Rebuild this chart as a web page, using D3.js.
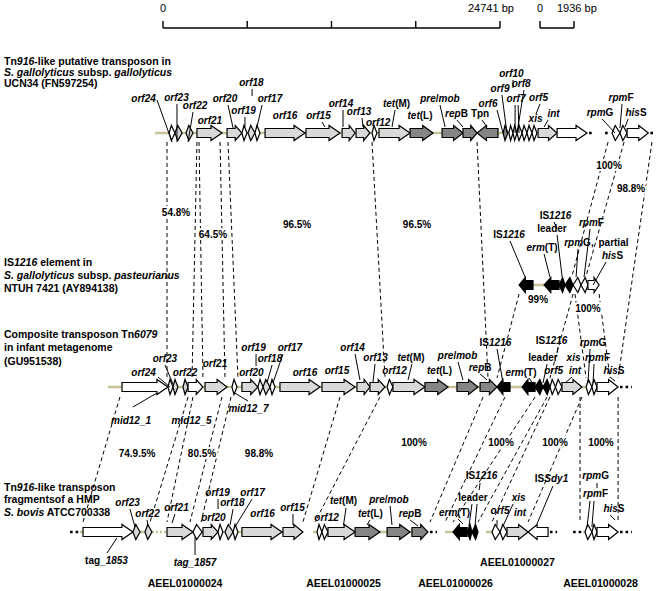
<!DOCTYPE html>
<html><head><meta charset="utf-8">
<script src="https://cdn.jsdelivr.net/npm/d3@7/dist/d3.min.js"></script>
<style>
body{margin:0;background:#fff;}
svg{display:block;font-family:"Liberation Sans",Arial,sans-serif;}
</style></head><body>
<svg id="c" width="661" height="591"></svg>
<script>
// ---------------- DATA (map coordinates in kb) ----------------
const scaleMainBp = [0, 6185, 12370, 18556, 24741];
const scaleSmallBp = [0, 1936];

// [name, startKb, endKb, strand, class]
const genesT1 = [
 ["orf24",0.13,0.50,1,"other"],["orf23",0.50,0.95,1,"core"],["orf22",1.20,1.64,1,"core"],
 ["orf21",1.89,3.47,1,"core"],["orf20",3.79,4.73,1,"core"],["orf19",4.73,5.05,1,"other"],
 ["orf18",5.11,5.55,1,"core"],["orf17",5.55,5.87,1,"other"],["orf16",6.19,8.71,1,"core"],
 ["orf15",8.77,10.92,1,"core"],["orf14",11.05,11.87,1,"core"],["orf13",11.93,12.81,1,"core"],
 ["orf12",12.94,13.25,1,"other"],["tet(M)",13.38,15.34,1,"core"],["tet(L)",15.34,16.79,1,"mobile"],
 ["pre/mob",17.36,18.68,1,"mobile"],["repB",18.68,19.57,1,"mobile"],["Tpn",19.57,20.89,-1,"mobile"],
 ["orf6",21.21,21.52,1,"mobile"],["orf9",21.58,21.84,1,"other"],["orf10",21.84,22.09,1,"other"],
 ["orf7",22.09,22.41,1,"other"],["orf8",22.41,22.72,1,"other"],["orf5",22.72,23.04,1,"other"],
 ["xis",23.04,23.35,1,"other"],["int",23.42,24.62,1,"core"],["unnamed",24.62,26.51,1,"other"],
 ["rpmG",28.09,28.59,1,"other"],["rpmF",28.59,29.04,1,"other"],["hisS",29.04,30.38,1,"other"]
];
const genesT2 = [
 ["IS1216",22.22,23.10,-1,"erm"],["erm(T)",23.80,24.74,-1,"erm"],["leader",24.74,25.12,-1,"erm"],
 ["IS1216",25.12,25.63,-1,"erm"],["rpmG",25.63,26.13,-1,"other"],["rpmF",26.13,26.57,-1,"other"],
 ["hisS",26.57,27.27,1,"other"]
];
const genesT3 = [
 ["mid12_1",-2.84,0.06,1,"other"],["orf24",0.06,0.38,1,"other"],["orf23",0.38,0.69,1,"core"],
 ["orf22",1.01,1.33,1,"core"],["mid12_5",1.33,2.27,1,"other"],["orf21",2.40,3.79,1,"core"],
 ["mid12_7",4.10,4.42,1,"other"],["orf20",4.73,5.74,1,"core"],["orf19",5.74,6.06,1,"other"],
 ["orf18",6.06,6.50,1,"core"],["orf17",6.50,6.82,1,"other"],["orf16",7.13,9.66,1,"core"],
 ["orf15",9.78,11.87,1,"core"],["orf14",11.99,12.81,1,"core"],["orf13",12.81,13.76,1,"core"],
 ["orf12",13.89,14.26,1,"other"],["tet(M)",14.26,16.28,1,"core"],["tet(L)",16.28,17.74,1,"mobile"],
 ["pre/mob",18.30,19.63,1,"mobile"],["repB",19.76,20.83,1,"mobile"],["IS1216",20.83,21.65,-1,"erm"],
 ["erm(T)",22.41,23.23,-1,"erm"],["leader",23.23,23.73,-1,"erm"],["IS1216",23.73,24.17,-1,"erm"],
 ["orf5",24.17,24.52,1,"other"],["xis",24.52,24.93,1,"other"],["int",24.93,26.19,1,"core"],
 ["rpmG",26.45,26.82,1,"other"],["rpmF",26.82,27.14,1,"other"],["hisS",27.14,28.47,1,"other"]
];
const genesT4 = [
 ["tag_1853",-5.30,-2.15,1,"other"],["orf23",-2.15,-1.70,1,"core"],["orf22",-1.39,-0.95,1,"core"],
 ["orf21",0,1.64,1,"core"],["tag_1857",1.64,2.21,1,"other"],["orf20",2.27,3.22,1,"core"],
 ["orf19",3.22,3.53,1,"other"],["orf18",3.66,4.17,1,"core"],["orf17",4.17,4.48,1,"other"],
 ["orf16",4.73,7.26,1,"core"],["orf15",7.32,8.58,1,"core"],
 ["orf13",9.47,9.78,1,"other"],["orf12",9.78,10.16,1,"other"],["tet(M)",10.16,11.87,1,"core"],
 ["tet(L)",11.87,13.44,1,"mobile"],["pre/mob",13.89,15.34,1,"mobile"],["repB",15.46,16.47,1,"mobile"],
 ["erm(T)",18.05,18.94,-1,"erm"],["leader",18.94,19.25,-1,"erm"],["IS1216",19.25,19.63,-1,"erm"],
 ["orf5",20.51,21.02,1,"other"],["xis",21.02,21.46,1,"other"],["int",21.46,22.79,1,"core"],
 ["ISSdy1",22.79,24.05,-1,"other"],
 ["rpmG",26.38,26.82,1,"other"],["rpmF",26.82,27.14,1,"other"],["hisS",27.14,28.47,1,"other"]
];

// backbone segments [startKb, endKb, kind]
const backT1 = [[-0.76,24.62,"solid"],[26.64,26.96,"gap"],[27.65,27.96,"gap"],[30.51,30.80,"gap"]];
const backT2 = [[23.10,23.92,"solid"]];
const backT3 = [[-3.72,28.47,"solid"],[28.59,29.35,"gap"]];
const backT4 = [[-6.12,-5.55,"gap"],[-5.49,-0.95,"solid"],[-0.95,0,"dotted"],[0,8.58,"solid"],
 [9.22,16.47,"solid"],[16.60,17.04,"gap"],[17.55,19.63,"solid"],[20.13,24.05,"solid"],
 [24.17,24.62,"gap"],[25.63,26.26,"gap"],[26.26,28.47,"solid"],[28.59,29.35,"gap"]];

// gene labels [markup, centerKb, dy, leaders [kb1,dy1,kb2,dy2]]
const labelsT1 = [
 ["<i>orf24</i>",-1.48,-31,[[-0.63,-33,0.32,9]]],["<i>orf23</i>",0.60,-32,[[0.63,-29,0.63,9]]],
 ["<i>orf22</i>",1.77,-24,[[1.64,-21,1.33,9]]],["<i>orf21</i>",2.71,-9,[]],
 ["<i>orf20</i>",3.66,-31,[[3.85,-28,4.17,-5]]],["<i>orf18</i>",5.33,-47,[[5.37,-44,5.37,-37]]],
 ["<i>orf19</i>",4.83,-19,[[4.92,-16,4.92,-6]]],["<i>orf17</i>",6.50,-31,[[6.0,-28,5.68,-6]]],
 ["<i>orf16</i>",7.45,-14,[]],["<i>orf15</i>",9.56,-14,[[9.78,-11,9.97,-6]]],
 ["<i>orf14</i>",10.98,-26,[[11.11,-23,11.11,-6]]],["<i>orf13</i>",12.12,-18,[[12.31,-15,12.37,-6]]],
 ["<i>orf12</i>",13.33,-7,[]],["<i>tet</i>(M)",14.49,-26,[[14.39,-23,14.20,-6]]],
 ["<i>tet</i>(L)",15.97,-14,[]],["<i>pre</i>/<i>mob</i>",17.23,-31,[[17.23,-28,17.55,-6]]],
 ["<i>rep</i>B",18.27,-16,[[18.30,-13,18.68,-6]]],["Tpn",19.76,-16,[[19.88,-13,20.20,-6]]],
 ["<i>orf6</i>",20.26,-26,[[20.83,-23,21.21,0]]],["<i>orf9</i>",21.02,-41,[[21.14,-38,21.46,0]]],
 ["<i>orf10</i>",21.74,-56,[[21.84,-53,21.84,-45]]],["<i>orf8</i>",22.35,-46,[[22.53,-43,22.09,0]]],
 ["<i>orf7</i>",22.03,-31,[[21.97,-28,21.97,0],[22.16,-28,22.22,0]]],
 ["<i>orf5</i>",23.45,-32,[[23.54,-29,23.29,-19]]],["<i>xis</i>",23.26,-11,[]],
 ["<i>int</i>",24.40,-16,[[24.05,-13,23.80,-6]]],["<i>rpm</i>F",28.66,-32,[[28.72,-29,28.59,-5]]],
 ["<i>rpm</i>G",27.33,-17,[[27.46,-14,28.28,0]]],["<i>his</i>S",29.60,-17,[[29.10,-14,28.91,-6]]]
];
const labelsT2 = [
 ["IS<i>1216</i>",24.52,-66,[[24.43,-63,24.62,-56]]],["leader",24.30,-53,[[24.62,-50,24.94,-8]]],
 ["IS<i>1216</i>",21.59,-47,[[21.65,-44,22.60,-8]]],["<i>erm</i>(T)",23.67,-34,[[23.80,-31,24.17,-8]]],
 ["<i>rpm</i>F",26.79,-59,[[26.70,-56,26.32,-8]]],["<i>rpm</i>G,",26.00,-39,[[25.94,-36,25.82,-8]]],
 ["partial",28.18,-39,[]],["<i>his</i>S",28.12,-26,[[27.71,-23,26.89,0]]]
];
const labelsT3 = [
 ["<i>orf23</i>",-0.13,-25,[[-0.13,-22,0.38,-3]]],["<i>orf24</i>",-1.48,-11,[[-0.57,-10,0.19,0]]],
 ["<i>orf22</i>",1.14,-11,[]],["<i>orf21</i>",3.03,-20,[]],
 ["<i>orf19</i>",5.46,-36,[[5.62,-33,5.62,-21]]],["<i>orf18</i>",6.50,-25,[[6.63,-22,6.31,-4]]],
 ["<i>orf17</i>",7.76,-36,[[7.32,-33,6.69,-4]]],["<i>orf20</i>",5.33,-11,[]],
 ["<i>orf16</i>",8.71,-11,[]],["<i>orf15</i>",10.73,-13,[]],
 ["<i>orf14</i>",11.71,-36,[[11.87,-33,12.18,-7]]],["<i>orf13</i>",13.16,-26,[[13.13,-23,13.00,-5]]],
 ["<i>orf12</i>",14.36,-13,[]],["<i>tet</i>(M)",15.40,-26,[[15.46,-23,15.21,-7]]],
 ["<i>tet</i>(L)",17.20,-13,[]],["<i>pre</i>/<i>mob</i>",18.34,-28,[[18.37,-25,18.68,-7]]],
 ["<i>rep</i>B",19.76,-16,[[19.76,-13,20.20,-7]]],["IS<i>1216</i>",20.73,-41,[[20.83,-38,21.21,-4]]],
 ["<i>erm</i>(T)",22.34,-11,[[22.85,-9,23.10,-3]]],["leader",23.73,-26,[[23.99,-23,23.73,-4]]],
 ["IS<i>1216</i>",24.27,-43,[[24.68,-40,24.62,-34]]],["<i>orf5</i>",24.40,-13,[]],
 ["<i>xis</i>",25.66,-26,[]],["<i>int</i>",25.75,-13,[[25.56,-10,25.12,-4]]],
 ["<i>rpm</i>G",26.89,-41,[[26.70,-38,26.57,-4]]],["<i>rpm</i>F",27.17,-26,[[26.95,-23,26.89,-4]]],
 ["<i>his</i>S",28.21,-13,[[27.96,-10,28.28,-6]]],
 ["<i>mid12_1</i>",-2.27,37,[[-2.15,20,-0.63,6]]],["<i>mid12_5</i>",1.55,37,[]],
 ["<i>mid12_7</i>",5.14,25,[[5.11,14,4.17,5]]]
];
const labelsT4 = [
 ["<i>orf23</i>",-2.49,-26,[[-2.34,-23,-2.02,-5]]],["<i>orf22</i>",-1.23,-15,[[-1.26,-12,-1.20,-7]]],
 ["<i>orf21</i>",0.60,-21,[[0.50,-18,0.32,-9]]],["<i>orf19</i>",3.19,-36,[[3.22,-33,3.22,-23]]],
 ["<i>orf18</i>",4.13,-26,[[4.17,-23,3.98,-7]]],["<i>orf17</i>",5.40,-36,[[5.37,-33,4.29,-5]]],
 ["<i>orf20</i>",2.93,-11,[]],["<i>orf16</i>",6.03,-15,[]],["<i>orf15</i>",7.92,-21,[[7.95,-18,7.95,-7]]],
 ["tag_<i>1853</i>",-3.82,32,[[-3.79,21,-3.16,6]]],["<i>tag_1857</i>",1.77,34,[[1.77,23,1.77,5]]],
 ["<i>orf12</i>",10.07,-11,[]],["<i>tet</i>(M)",11.14,-28,[[11.30,-24,11.14,-7]]],
 ["<i>tet</i>(L)",12.84,-15,[[12.81,-12,12.62,-7]]],["<i>pre</i>/<i>mob</i>",14.01,-29,[[14.08,-26,14.20,-7]]],
 ["<i>rep</i>B",15.34,-15,[[15.34,-12,15.84,-6]]],["IS<i>1216</i>",19.85,-53,[[19.76,-49,19.70,-42]]],
 ["leader",19.31,-31,[[19.57,-28,19.44,-6],[19.25,-28,19.06,-6]]],
 ["<i>erm</i>(T)",18.15,-16,[[18.37,-13,18.68,-8]]],["<i>orf5</i>",21.02,-18,[[20.83,-12,20.83,-6]]],
 ["<i>xis</i>",22.19,-31,[[21.84,-28,21.21,-6]]],["<i>int</i>",22.28,-16,[]],
 ["IS<i>Sdy1</i>",24.27,-50,[[24.36,-46,23.35,-8]]],["<i>rpm</i>G",27.05,-53,[[27.14,-49,27.14,-44]]],
 ["<i>rpm</i>F",27.05,-35,[[26.70,-31,26.51,-5],[26.95,-31,26.82,-5]]],
 ["<i>his</i>S",28.21,-20,[[27.96,-17,28.28,-12]]]
];

// homology connectors [trackPair, topKb, bottomKb]
const connectors = [
 ["13",0,0],["13",1.89,1.58],["13",2.02,2.27],["13",3.35,3.66],["13",3.85,4.48],
 ["13",12.94,13.76],["13",19.57,20.26],["13",30.61,28.47],
 ["12",27.84,25.56],["12",28.85,26.45],
 ["23",22.22,20.83],["23",25.63,24.17],["23",25.75,26.45],["23",27.27,27.96],
 ["34",-2.97,-5.30],["34",1.33,-1.07],["34",1.64,0],["34",3.47,1.45],["34",4.04,2.15],
 ["34",10.92,8.58],["34",13.44,9.34],["34",19.95,16.60],["34",21.33,17.55],
 ["34",23.23,18.05],["34",23.99,19.63],["34",24.17,20.51],["34",26.19,22.79],
 ["34",26.07,26.07],["34",28.47,28.47]
];
// identity values [text, centerKb, baselineY]
const identities = [
 ["54.8%",0.57,216],["64.5%",2.90,238],["96.5%",8.21,228],["96.5%",15.78,228],
 ["100%",27.90,169],["98.8%",29.29,192],["99%",23.42,303],["100%",26.57,312],
 ["74.9.5%",-1.89,457],["80.5%",2.21,457],["98.8%",5.81,457],
 ["100%",15.59,446],["100%",21.08,446],["100%",24.49,446],["100%",27.39,446]
];
const contigs = [["AEEL01000024",1.14,587],["AEEL01000025",11.14,587],["AEEL01000026",18.21,587],
 ["AEEL01000027",22.12,566],["AEEL01000028",27.36,587]];
const titles = {
 t1:["Tn<i>916</i>-like putative transposon in","<i>S. gallolyticus</i> subsp. <i>gallolyticus</i>","UCN34 (FN597254)"],
 t2:["IS<i>1216</i> element in","<i>S. gallolyticus</i> subsp. <i>pasteurianus</i>","NTUH 7421 (AY894138)"],
 t3:["Composite transposon Tn<i>6079</i>","in infant metagenome","(GU951538)"],
 t4:["Tn<i>916</i>-like transposon","fragmentsof a HMP","<i>S. bovis</i> ATCC700338"]
};

// ---------------- LAYOUT / STYLE ----------------
const trackY = {t1:133, t2:285, t3:387, t4:532};
const titleBase = {t1:[64.5,75.5,86.5], t2:[266,279,292], t3:[337.5,351,364.5], t4:[491,502.5,516]};
const connY = {"13":[142,378],"12":[142,276],"23":[294,378],"34":[397,522]};
const fillOf = {core:"#d9d9d9", mobile:"#858585", erm:"#000000", other:"#ffffff"};
const lineCol = "#c8c299";

const x = d3.scaleLinear().domain([0, 24.741]).range([167, 559]);
const sMain = d3.scaleLinear().domain([0, 24741]).range([163, 500]);
const sSmall = d3.scaleLinear().domain([0, 1936]).range([540, 574]);

const svg = d3.select("#c");

function rich(sel, str){
  str.split(/(<i>.*?<\/i>)/).filter(s=>s.length).forEach(s=>{
    const it = s.startsWith("<i>");
    sel.append("tspan").attr("font-style", it?"italic":"normal").text(it ? s.slice(3,-4) : s);
  });
}

// scale bars
const barY = 28;
const sb = svg.append("g").attr("stroke","#000").attr("stroke-width",1.4);
sb.append("line").attr("x1",sMain(0)).attr("x2",sMain(24741)).attr("y1",barY).attr("y2",barY);
scaleMainBp.forEach(v=>sb.append("line").attr("x1",sMain(v)).attr("x2",sMain(v)).attr("y1",barY-7).attr("y2",barY));
sb.append("line").attr("x1",sSmall(0)).attr("x2",sSmall(1936)).attr("y1",barY).attr("y2",barY);
scaleSmallBp.forEach(v=>sb.append("line").attr("x1",sSmall(v)).attr("x2",sSmall(v)).attr("y1",barY-7).attr("y2",barY));
const st = svg.append("g").attr("font-size","11px").attr("fill","#000");
st.append("text").attr("x",sMain(0)).attr("y",12).attr("text-anchor","middle").text("0");
st.append("text").attr("x",sMain(24741)-32).attr("y",12).text(scaleMainBp[4]+" bp");
st.append("text").attr("x",sSmall(0)).attr("y",12).attr("text-anchor","middle").text("0");
st.append("text").attr("x",sSmall(1936)-17).attr("y",12).text(scaleSmallBp[1]+" bp");

// connectors
svg.append("g").selectAll("line").data(connectors).join("line")
  .attr("x1",d=>x(d[1])).attr("y1",d=>connY[d[0]][0])
  .attr("x2",d=>x(d[2])).attr("y2",d=>connY[d[0]][1])
  .attr("stroke","#000").attr("stroke-width",1).attr("stroke-dasharray","4,3");

// identity labels
svg.append("g").selectAll("text").data(identities).join("text")
  .attr("x",d=>x(d[1])).attr("y",d=>d[2]).attr("text-anchor","middle")
  .attr("font-size","10px").attr("font-weight","bold")
  .attr("stroke","#fff").attr("stroke-width",4).attr("paint-order","stroke").attr("fill","#000")
  .text(d=>d[0]);

function genePath(x0, x1, dir, y){
  const L = x1 - x0, H = 7.5, B = 4.5;
  if (L < 10){
    const tip = dir>0 ? x1 : x0, tail = dir>0 ? x0 : x1;
    const a = dir>0 ? x0 + L*0.4 : x1 - L*0.4;
    return `M${tail},${y}L${a},${y-H}L${tip},${y}L${a},${y+H}Z`;
  }
  const hl = Math.min(11, L*0.45);
  if (dir>0) return `M${x0},${y-B}L${x1-hl},${y-B}L${x1-hl},${y-H}L${x1},${y}L${x1-hl},${y+H}L${x1-hl},${y+B}L${x0},${y+B}Z`;
  return `M${x1},${y-B}L${x0+hl},${y-B}L${x0+hl},${y-H}L${x0},${y}L${x0+hl},${y+H}L${x0+hl},${y+B}L${x1},${y+B}Z`;
}

const tracks = [
  ["t1", genesT1, backT1, labelsT1],
  ["t2", genesT2, backT2, labelsT2],
  ["t3", genesT3, backT3, labelsT3],
  ["t4", genesT4, backT4, labelsT4]
];

tracks.forEach(([key, genes, back, labels])=>{
  const y = trackY[key];
  const g = svg.append("g");
  g.selectAll("line.bb").data(back).join("line")
    .attr("x1",d=>x(d[0])).attr("x2",d=>x(d[1])).attr("y1",y).attr("y2",y)
    .attr("stroke",d=>d[2]==="gap" ? "#000" : lineCol)
    .attr("stroke-width",2.6)
    .attr("stroke-dasharray",d=>d[2]==="gap" ? "2.6,3" : (d[2]==="dotted" ? "2,2" : null));
  g.selectAll("path").data(genes).join("path")
    .attr("d",d=>genePath(x(d[1]), x(d[2]), d[3], y))
    .attr("fill",d=>fillOf[d[4]]).attr("stroke","#000").attr("stroke-width",1.2);
  const leads = [];
  labels.forEach(l=>l[3].forEach(s=>leads.push(s)));
  g.selectAll("line.ld").data(leads).join("line")
    .attr("x1",d=>x(d[0])).attr("y1",d=>y+d[1]).attr("x2",d=>x(d[2])).attr("y2",d=>y+d[3])
    .attr("stroke","#000").attr("stroke-width",1);
  labels.forEach(l=>{
    const t = g.append("text").attr("x",x(l[1])).attr("y",y+l[2]).attr("text-anchor","middle")
      .attr("font-size","10px").attr("font-weight","bold").attr("fill","#000");
    rich(t, l[0]);
  });
  titles[key].forEach((line,i)=>{
    const t = svg.append("text").attr("x",4).attr("y",titleBase[key][i])
      .attr("font-size","10.5px").attr("font-weight","bold").attr("fill","#000");
    rich(t, line);
  });
});

svg.append("g").selectAll("text").data(contigs).join("text")
  .attr("x",d=>x(d[1])).attr("y",d=>d[2]).attr("text-anchor","middle")
  .attr("font-size","10.5px").attr("font-weight","bold").text(d=>d[0]);
</script></body></html>
